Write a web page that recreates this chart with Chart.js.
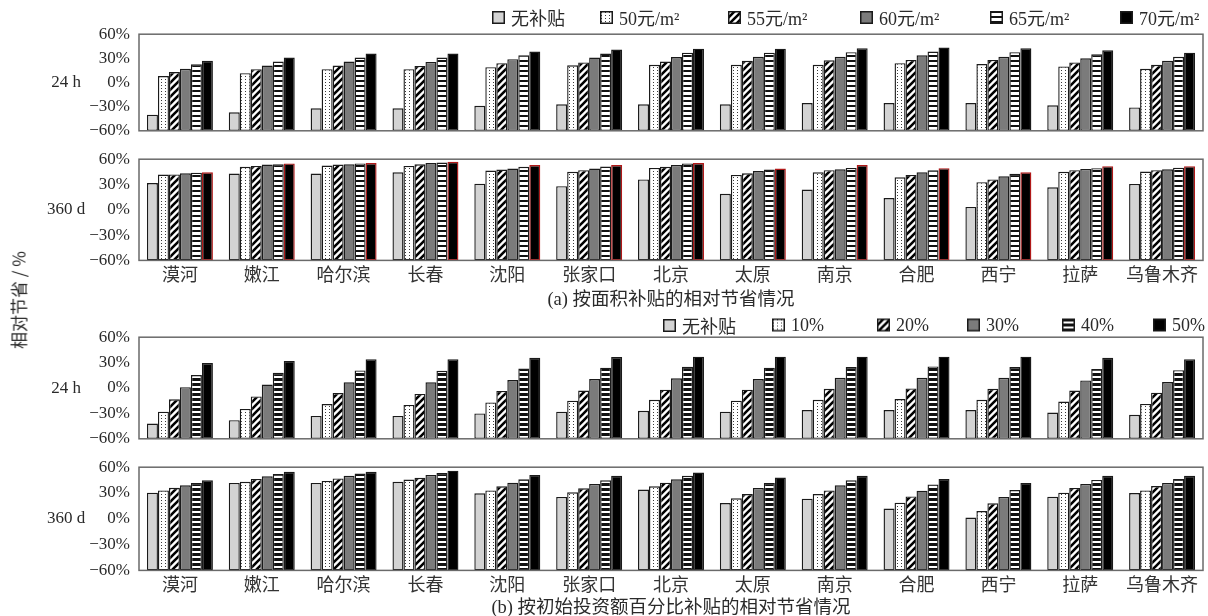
<!DOCTYPE html>
<html>
<head>
<meta charset="utf-8">
<script src="https://cdn.jsdelivr.net/npm/chart.js@4.4.0/dist/chart.umd.min.js"></script>
<style>
  body { margin: 0; background: #fff; width: 1208px; height: 616px; position: relative; overflow: hidden;
         font-family: "Liberation Serif", "Noto Sans CJK SC", serif; color: #2a2a2a; }
  .panel { position: absolute; left: 0; width: 1208px; }
  .txt { position: absolute; font-size: 17px; white-space: nowrap; transform: translate(-50%, -50%); }
  .sub { font-size: 18.5px; }
  .cjk { font-family: "Noto Sans CJK SC", sans-serif; }
  .leg { position: absolute; display: flex; align-items: center; font-size: 18px; white-space: nowrap; transform: translateY(-50%); }
  .leg canvas { margin-right: 6px; }
</style>
</head>
<body>
<script>
// ---- data ----
const cities = ['漠河', '嫩江', '哈尔滨', '长春', '沈阳', '张家口', '北京', '太原', '南京', '合肥', '西宁', '拉萨', '乌鲁木齐'];
const areaSeries = ['无补贴', '50元/m²', '55元/m²', '60元/m²', '65元/m²', '70元/m²'];
const pctSeries  = ['无补贴', '10%', '20%', '30%', '40%', '50%'];
const yTicks = [-60, -30, 0, 30, 60];

// (a) by area subsidy, 24 h — one row per series
const area24h = [
  [-40, -37, -32, -32, -29, -27, -27, -27, -25.5, -25.5, -25.5, -28.4, -31],
  [8, 11.6, 16.5, 16.5, 19, 21.4, 22, 22, 22, 24, 23, 20, 17],
  [13, 16.5, 21, 20.6, 24, 25, 26, 27, 27.5, 28, 28, 25, 22],
  [17, 21, 26, 25.5, 29, 31, 31.6, 32, 32, 33.7, 32, 30, 27],
  [22.6, 26, 31, 31, 34, 36, 37, 37, 37.7, 38.5, 37.7, 35, 32],
  [27, 31, 36, 36, 38.5, 41, 42, 42, 42.6, 43.5, 42.6, 40, 37],
];
// (a) by area subsidy, 360 d
const area360d = [
  [31.8, 43, 43, 44.5, 31, 28, 36, 19, 24, 14, 3.4, 26.7, 30.7],
  [41.8, 51, 52.5, 52, 46.5, 45, 49.7, 41.4, 44.5, 38.6, 32.7, 45, 45.3],
  [42, 52, 53.7, 54, 47.7, 47, 51, 43.3, 47, 41.4, 36, 47, 47],
  [43.3, 53.7, 54, 55.5, 49, 49, 53.2, 46, 48, 44.5, 39.8, 48.5, 48],
  [44, 54, 55, 56, 51, 51.3, 55, 47.7, 49.7, 47, 42.6, 49.3, 50],
  [44.5, 55, 55.5, 57, 53, 53, 55.5, 49, 53, 49.3, 44.5, 51.7, 51.7],
];
// (b) by percentage of initial investment, 24 h
const pct24h = [
  [-42, -38, -33, -33, -30, -28, -27, -28, -26, -26, -26, -29, -31.7],
  [-28, -24.7, -19, -20, -17, -15, -14, -15, -14, -13, -14, -16, -18.8],
  [-13.3, -10, -6, -7, -3.5, -3, -2, -2, -1, -0.5, -1, -3, -5.5],
  [1, 4, 6.7, 6.7, 9.4, 10.6, 11.4, 10.6, 12, 12, 12, 9, 7],
  [15.3, 18, 20.8, 20.4, 23, 24, 25, 24, 24.7, 25.5, 24.7, 22.4, 21],
  [29.4, 32, 34, 34, 35.6, 36.5, 37, 37, 37, 37, 37, 35.6, 34],
];
// (b) by percentage of initial investment, 360 d
const pct360d = [
  [30.4, 41.7, 41.7, 43, 29.6, 25.4, 34, 18.4, 23.4, 12, 1.5, 25.7, 30],
  [33, 43, 44, 45.6, 33, 30.8, 37.8, 23.8, 28.8, 18.7, 9, 30.4, 33],
  [36, 46.4, 47, 47.6, 37.8, 35.4, 42, 28.8, 33, 26, 18, 35.9, 38],
  [39, 49.5, 50, 51, 42, 40.6, 46, 35.9, 39, 32.7, 25.4, 40.6, 41.7],
  [41.7, 52, 52.6, 53.4, 46, 44.8, 50, 41.7, 44.8, 40, 33.5, 45.2, 46.4],
  [44.8, 54.6, 54.6, 56, 51, 50, 53.8, 48, 50, 46.4, 41.7, 50, 50],
];

// ---- fills ----
function makePattern(kind) {
  const c = document.createElement('canvas');
  const g = c.getContext('2d');
  if (kind === 'dots') {
    c.width = 4; c.height = 3;
    g.fillStyle = '#fff'; g.fillRect(0, 0, 4, 3);
    g.fillStyle = '#3a3a3a'; g.fillRect(1, 1, 1, 1);
  } else if (kind === 'diag') {
    c.width = 7; c.height = 7;
    g.fillStyle = '#fff'; g.fillRect(0, 0, 7, 7);
    g.strokeStyle = '#000'; g.lineWidth = 2.6;
    g.beginPath();
    g.moveTo(-1, 8); g.lineTo(8, -1);
    g.moveTo(-1, 1); g.lineTo(1, -1);
    g.moveTo(6, 8); g.lineTo(8, 6);
    g.stroke();
  } else if (kind === 'hthin') {
    c.width = 4; c.height = 5;
    g.fillStyle = '#fff'; g.fillRect(0, 0, 4, 5);
    g.fillStyle = '#111'; g.fillRect(0, 0, 4, 2);
  } else if (kind === 'hthick') {
    c.width = 4; c.height = 5;
    g.fillStyle = '#fff'; g.fillRect(0, 0, 4, 5);
    g.fillStyle = '#111'; g.fillRect(0, 0, 4, 3);
  }
  return g.createPattern(c, 'repeat');
}

const fillsA = ['#d3d3d3', makePattern('dots'), makePattern('diag'), '#7b7b7b', makePattern('hthin'), '#000'];
const fillsB = ['#d3d3d3', makePattern('dots'), makePattern('diag'), '#7b7b7b', makePattern('hthick'), '#000'];

const frame = {
  id: 'frame',
  afterDatasetsDraw(chart) {
    const { ctx, chartArea: a } = chart;
    ctx.save();
    ctx.strokeStyle = '#6a6a6a';
    ctx.lineWidth = 1.5;
    ctx.strokeRect(a.left, a.top, a.right - a.left, a.bottom - a.top);
    ctx.restore();
  },
};

function panel(top, height, rows, fills, showX, pad, redLast) {
  const div = document.createElement('div');
  div.className = 'panel';
  div.style.top = top + 'px';
  div.style.height = height + 'px';
  const cv = document.createElement('canvas');
  div.appendChild(cv);
  document.body.appendChild(div);

  const datasets = rows.map((vals, i) => ({
    label: String(i),
    data: vals,
    base: yTicks[0],
    backgroundColor: fills[i],
    borderColor: (redLast && i === 5) ? '#b01818' : '#1a1a1a',
    borderWidth: 1.4,
    borderSkipped: false,
    categoryPercentage: 0.806,
    barPercentage: 1.0,
  }));

  return new Chart(cv, {
    type: 'bar',
    data: { labels: cities, datasets },
    options: {
      responsive: true,
      maintainAspectRatio: false,
      animation: false,
      layout: { padding: pad },
      plugins: { legend: { display: false }, tooltip: { enabled: false } },
      scales: {
        x: {
          grid: { display: false, drawTicks: false },
          border: { display: false },
          ticks: {
            display: showX,
            padding: 3,
            color: '#333',
            font: { size: 18, family: '"Noto Sans CJK SC", sans-serif' },
            maxRotation: 0,
            autoSkip: false,
          },
        },
        y: {
          min: yTicks[0],
          max: yTicks[yTicks.length - 1],
          afterFit(scale) { scale.width = 139; },
          afterBuildTicks(scale) { scale.ticks = yTicks.map(v => ({ value: v })); },
          grid: { display: false, drawTicks: false },
          border: { display: false },
          ticks: {
            autoSkip: false,
            padding: 9,
            color: '#2a2a2a',
            font: { size: 17, family: '"Liberation Serif", serif' },
            callback: v => (v < 0 ? '−' : '') + Math.abs(v) + '%',
          },
        },
      },
    },
    plugins: [frame],
  });
}

panel(15, 135, area24h, fillsA, false, { top: 12, bottom: 12, left: 0, right: 5 }, false);
panel(140, 154, area360d, fillsA, true, { top: 12, bottom: 6, left: 0, right: 5 }, true);
panel(318, 140, pct24h, fillsB, false, { top: 12, bottom: 12, left: 0, right: 5 }, false);
panel(448, 158, pct360d, fillsB, true, { top: 12, bottom: 8, left: 0, right: 5 }, false);

// ---- legends ----
function legend(names, fills, lefts, y) {
  names.forEach((name, i) => {
    const item = document.createElement('div');
    item.className = 'leg';
    item.style.left = lefts[i] + 'px';
    item.style.top = y + 'px';
    const sw = document.createElement('canvas');
    sw.width = 13; sw.height = 13;
    const g = sw.getContext('2d');
    g.fillStyle = fills[i]; g.fillRect(0, 0, 13, 13);
    g.strokeStyle = '#1a1a1a'; g.lineWidth = 1.5; g.strokeRect(0.75, 0.75, 11.5, 11.5);
    item.appendChild(sw);
    const t = document.createElement('span');
    t.textContent = name;
    item.appendChild(t);
    document.body.appendChild(item);
  });
}
legend(areaSeries, fillsA, [492, 600, 728, 860, 990, 1120], 17);
legend(pctSeries, fillsB, [663, 772, 877, 967, 1062, 1153], 325);

// ---- static texts ----
function text(str, x, y, cls, extra) {
  const d = document.createElement('div');
  d.className = 'txt ' + (cls || '');
  d.textContent = str;
  d.style.left = x + 'px';
  d.style.top = y + 'px';
  if (extra) Object.assign(d.style, extra);
  document.body.appendChild(d);
}
text('24 h', 66, 82);
text('360 d', 66, 209);
text('24 h', 66, 388);
text('360 d', 66, 518);
text('(a) 按面积补贴的相对节省情况', 671, 297, 'sub');
text('(b) 按初始投资额百分比补贴的相对节省情况', 671, 605, 'sub');
text('相对节省 / %', 18, 300, 'cjk', { transform: 'translate(-50%, -50%) rotate(-90deg)' });
</script>
</body>
</html>
